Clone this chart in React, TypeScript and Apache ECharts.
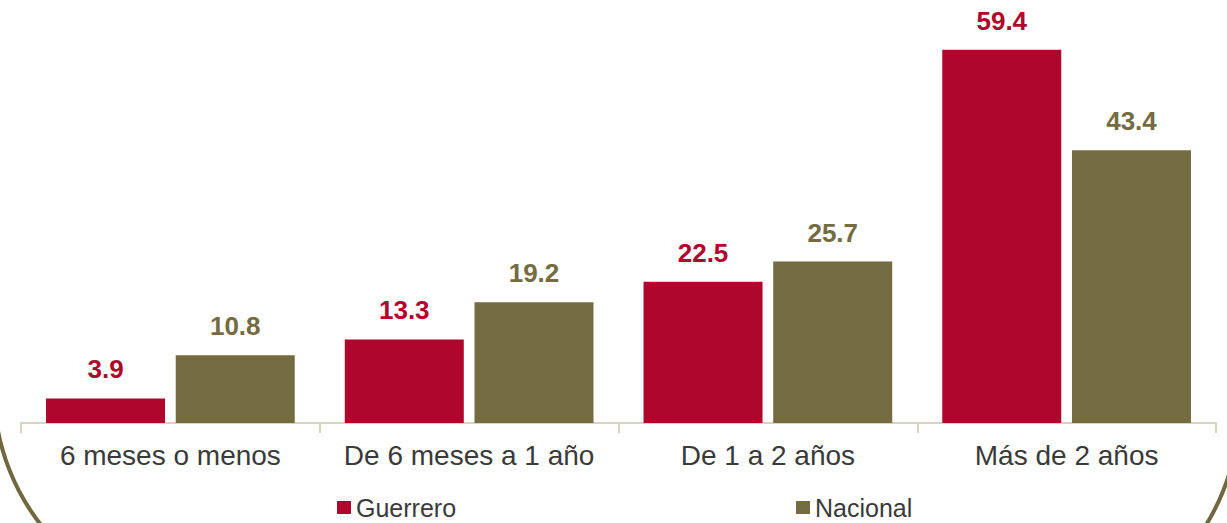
import React, { useEffect, useRef } from "react";
import * as echarts from "echarts";

const categories = ["6 meses o menos", "De 6 meses a 1 año", "De 1 a 2 años", "Más de 2 años"];
const guerrero = [3.9, 13.3, 22.5, 59.4];
const nacional = [10.8, 19.2, 25.7, 43.4];
const seriesNames = ["Guerrero", "Nacional"];

const RED = "#ae062c";
const OLIVE = "#746b41";
const BORDER = "#6f6840";
const FONT = "Liberation Sans, Arial, sans-serif";

export default function App() {
  const ref = useRef<HTMLDivElement>(null);
  useEffect(() => {
    document.body.style.margin = "0";
    const chart = echarts.init(ref.current!, undefined, { renderer: "svg" });
    const labelCommon = {
      show: true,
      position: "top",
      distance: 16,
      fontSize: 26,
      fontWeight: "bold",
      fontFamily: FONT,
      formatter: (p: any) => p.value.toFixed(1),
    };
    const legendCommon = {
      top: 495,
      icon: "rect",
      itemWidth: 14,
      itemHeight: 13,
      itemGap: 6,
      padding: 0,
      textStyle: { fontSize: 25, lineHeight: 25, color: "#3a3a3a", fontFamily: FONT },
    };
    chart.setOption({
      animation: false,
      backgroundColor: "#ffffff",
      grid: { left: 21, right: 11, top: 46, bottom: 100 },
      xAxis: {
        type: "category",
        data: categories,
        axisLine: { lineStyle: { color: "#d9d4bf", width: 2 } },
        axisTick: { show: true, length: 10, lineStyle: { color: "#d9d4bf", width: 2 } },
        axisLabel: {
          interval: 0,
          fontSize: 28,
          color: "#3a3a3a",
          margin: 18,
          fontFamily: FONT,
        },
      },
      yAxis: { type: "value", min: 0, max: 60, show: false, splitLine: { show: false } },
      legend: [
        { ...legendCommon, data: [seriesNames[0]], left: 337 },
        { ...legendCommon, data: [seriesNames[1]], left: 796 },
      ],
      series: [
        {
          name: seriesNames[0],
          type: "bar",
          data: guerrero,
          barWidth: 119,
          barGap: "9%",
          itemStyle: { color: RED },
          label: { ...labelCommon, color: RED },
        },
        {
          name: seriesNames[1],
          type: "bar",
          data: nacional,
          barWidth: 119,
          barGap: "9%",
          itemStyle: { color: OLIVE },
          label: { ...labelCommon, color: OLIVE },
        },
      ],
      graphic: [
        {
          type: "arc",
          shape: { cx: 214, cy: 389, r: 220, startAngle: Math.PI / 2, endAngle: Math.PI, clockwise: true },
          style: { stroke: BORDER, lineWidth: 4, fill: "none" },
          silent: true,
        },
        {
          type: "arc",
          shape: { cx: 1019, cy: 409, r: 220, startAngle: 0, endAngle: Math.PI / 2, clockwise: true },
          style: { stroke: BORDER, lineWidth: 4, fill: "none" },
          silent: true,
        },
      ],
    });
    return () => chart.dispose();
  }, []);
  return <div ref={ref} style={{ position: "fixed", left: 0, top: 0, width: 1227, height: 523 }} />;
}
